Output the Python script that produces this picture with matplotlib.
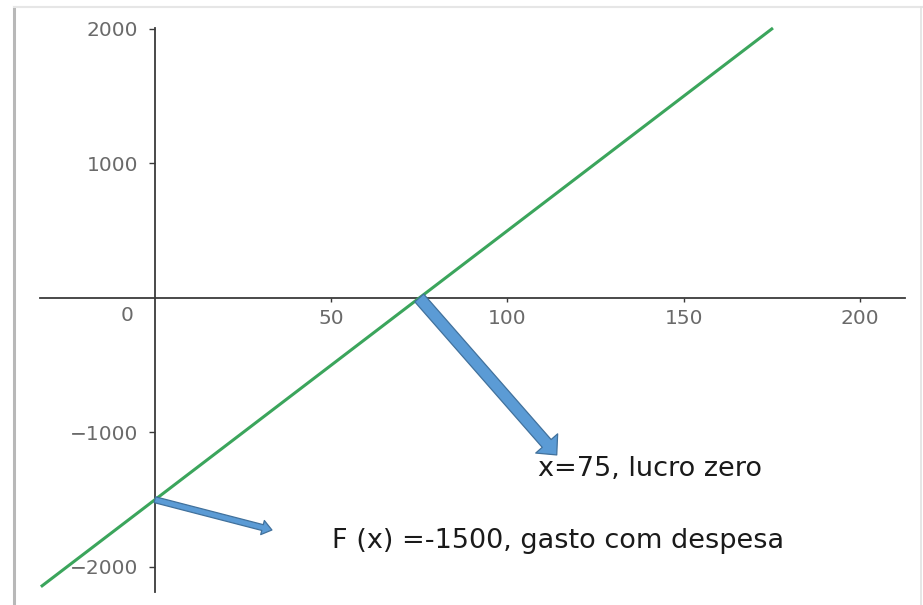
import matplotlib
matplotlib.use("Agg")
import matplotlib.pyplot as plt
from matplotlib.patches import FancyArrowPatch
from matplotlib.lines import Line2D

# data
line_x = [-32, 0, 75, 175]
line_y = [-2140, -1500, 0, 2000]
x_ticks = [50, 100, 150, 200]
x_tick_labels = ["50", "100", "150", "200"]
y_ticks = [-2000, -1000, 1000, 2000]
y_tick_labels = ["\u22122000", "\u22121000", "1000", "2000"]
zero_point = (75, 0)
intercept_point = (0, -1500)
label_zero = "x=75, lucro zero"
label_intercept = "F (x) =-1500, gasto com despesa"

fig = plt.figure(figsize=(9.23, 6.05), dpi=100)
fig.patch.set_facecolor("white")

W, H = 923, 605
ax = fig.add_axes([40 / W, 1 - 592 / H, (905 - 40) / W, (592 - 28) / H])
ax.set_xlim(-32.6, 212.8)
ax.set_ylim(-2186, 2007)

for s in ["top", "right"]:
    ax.spines[s].set_visible(False)
ax.spines["left"].set_position(("data", 0))
ax.spines["bottom"].set_position(("data", 0))
for s in ["left", "bottom"]:
    ax.spines[s].set_color("#3a3a3a")
    ax.spines[s].set_linewidth(1.3)

tick_font = dict(family="DejaVu Sans", size=14.5)
ax.set_xticks(x_ticks)
ax.set_xticklabels(x_tick_labels, color="#6a6a6a", **tick_font)
ax.set_yticks(y_ticks)
ax.set_yticklabels(y_tick_labels, color="#6a6a6a", **tick_font)
ax.tick_params(axis="x", direction="out", length=3, width=1, color="#3a3a3a", pad=5)
ax.tick_params(axis="y", direction="out", length=4, width=1, color="#3a3a3a", pad=8)
ax.annotate("0", xy=(0, 0), xytext=(-20, -6), textcoords="offset points",
            ha="center", va="top", color="#6a6a6a", **tick_font)

ax.plot(line_x, line_y, color="#3ba55c", linewidth=2.2, clip_on=False, zorder=3)

arrow_blue = "#5b9bd5"
arrow_edge = "#41719c"
a1 = FancyArrowPatch(posA=zero_point, posB=(114, -1167),
                     arrowstyle="simple,head_length=11,head_width=21,tail_width=8.5",
                     mutation_scale=1, shrinkA=0, shrinkB=0,
                     facecolor=arrow_blue, edgecolor=arrow_edge, linewidth=0.9, zorder=4)
ax.add_patch(a1)
a2 = FancyArrowPatch(posA=intercept_point, posB=(33.2, -1725),
                     arrowstyle="simple,head_length=7,head_width=10.5,tail_width=4.3",
                     mutation_scale=1, shrinkA=0, shrinkB=0,
                     facecolor=arrow_blue, edgecolor=arrow_edge, linewidth=0.9, zorder=4)
ax.add_patch(a2)

text_font = dict(family="DejaVu Sans", size=19.5, color="#1a1a1a")
ax.text(108.7, -1323, label_zero, ha="left", va="baseline", **text_font)
ax.text(50.2, -1859, label_intercept, ha="left", va="baseline", **text_font)

# screenshot frame
fig.add_artist(Line2D([14 / W, 14 / W], [0, 1 - 7 / H], transform=fig.transFigure,
                      color="#b8b8b8", linewidth=2.2))
fig.add_artist(Line2D([14 / W, 1], [1 - 7 / H, 1 - 7 / H], transform=fig.transFigure,
                      color="#e6e6e6", linewidth=1.5))
fig.add_artist(Line2D([921 / W, 921 / W], [0, 1 - 7 / H], transform=fig.transFigure,
                      color="#e2e2e2", linewidth=1.2))

fig.savefig("out.png", dpi=100)
